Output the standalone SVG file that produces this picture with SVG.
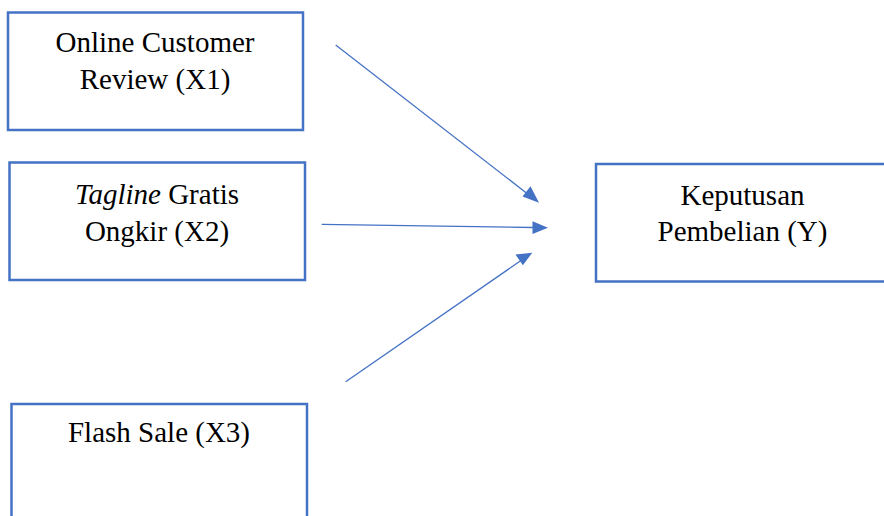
<svg xmlns="http://www.w3.org/2000/svg" width="884" height="516" viewBox="0 0 884 516">
<defs>
<style>
.box{fill:#fff;stroke:#4472C4;stroke-width:2.5}
.c{stroke:#4472C4;stroke-width:1.3;fill:none}
.h{fill:#4472C4}
</style>
</defs>
<rect width="884" height="516" fill="#fff"/>
<g font-family="'Liberation Serif', serif" font-size="29" fill="#000" text-anchor="middle">
<g id="x1">
<rect class="box" x="8" y="12.5" width="295" height="117.5"/>
<text x="155" y="52">Online Customer</text>
<text x="155" y="88.5">Review (X1)</text>
</g>
<g id="x2">
<rect class="box" x="9.5" y="162.5" width="295.5" height="117.5"/>
<text x="157" y="203.5"><tspan font-style="italic">Tagline</tspan> Gratis</text>
<text x="157" y="240.5">Ongkir (X2)</text>
</g>
<g id="x3">
<rect class="box" x="11.5" y="404" width="295.5" height="130"/>
<text x="159" y="442">Flash Sale (X3)</text>
</g>
<g id="y">
<rect class="box" x="596" y="164" width="300" height="117.5"/>
<text x="742.5" y="204.5">Keputusan</text>
<text x="742.5" y="241">Pembelian (Y)</text>
</g>
</g>
<g id="connectors">
<line class="c" x1="335.7" y1="45" x2="527" y2="193.4"/>
<path class="h" d="M539,202.7 L522.5,196.5 L530.5,186.2 Z"/>
<line class="c" x1="321.7" y1="224.3" x2="533" y2="227.5"/>
<path class="h" d="M548,227.7 L532.5,221.2 L532.5,234 Z"/>
<line class="c" x1="345.7" y1="381.7" x2="522" y2="259.8"/>
<path class="h" d="M532.3,252.7 L515.5,254.6 L522.9,265.3 Z"/>
</g>
</svg>
